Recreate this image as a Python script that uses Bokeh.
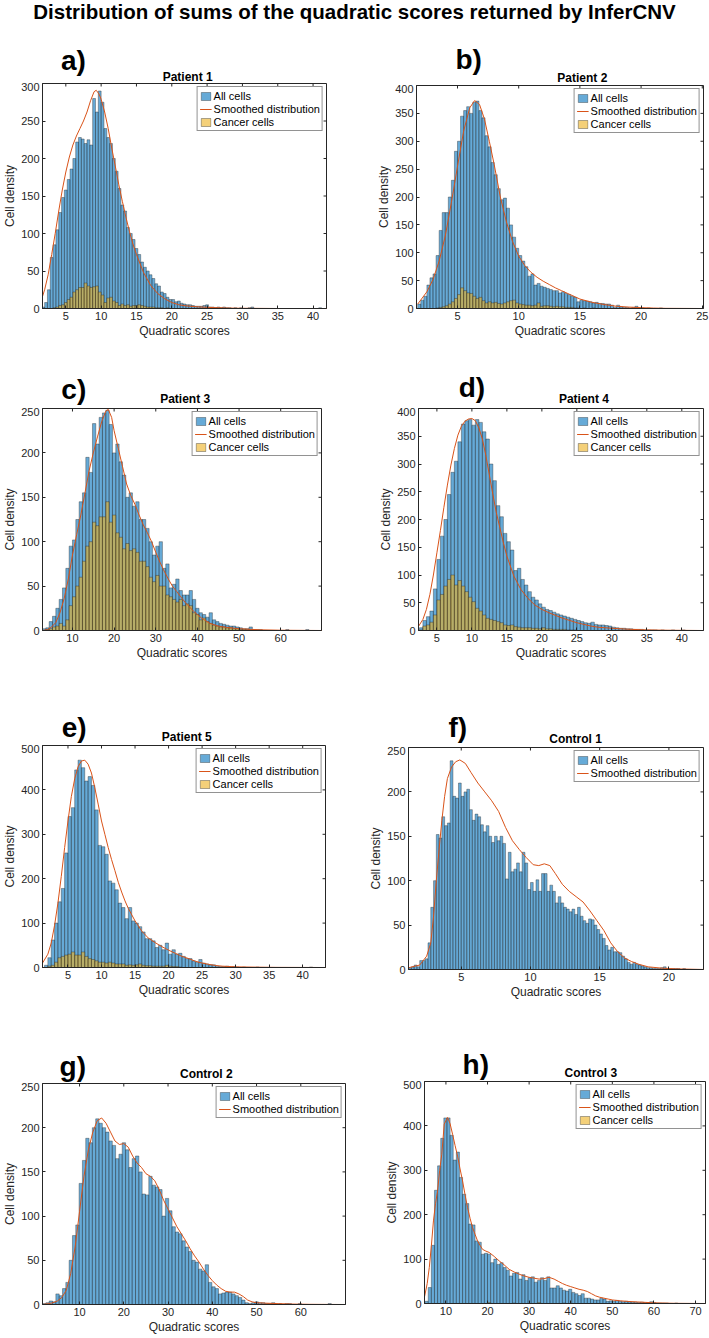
from bokeh.plotting import figure
from bokeh.layouts import column, row
from bokeh.models import Range1d, FixedTicker, Label, Legend, LegendItem
from bokeh.embed import file_html
from bokeh.resources import INLINE

# ---------------------------------------------------------------- data
FIG_TITLE = "Distribution of sums of the quadratic scores returned by InferCNV"
X_LABEL = "Quadratic scores"
Y_LABEL = "Cell density"

# Patient 1
P1_BIN_START, P1_BIN_WIDTH = 1.6, 0.4
P1_ALL = [2, 8, 25, 68, 85, 105, 128, 148, 158, 172, 186, 200, 222, 228, 226, 220, 225, 218, 280, 262,
          290, 275, 240, 228, 220, 200, 183, 160, 138, 130, 108, 100, 92, 80, 72, 62, 55, 50, 45, 40,
          33, 30, 22, 20, 15, 12, 12, 9, 10, 7, 6, 5, 5, 4, 3, 3, 3, 4, 5, 2,
          2, 1, 2, 1, 2, 1, 1, 0, 1, 0, 1, 0, 0, 1, 2, 0, 0, 0, 0, 0,
          0, 0, 0, 0, 0, 0, 0, 0, 0, 0, 0, 0, 0, 0, 0, 0, 0, 0, 1, 0, 0]
P1_CANCER = [0, 0, 0, 0, 1, 2, 4, 5, 8, 12, 15, 22, 25, 28, 28, 34, 30, 28, 29, 30,
             22, 18, 8, 14, 15, 10, 8, 4, 6, 4, 5, 3, 4, 4, 5, 4, 3, 2, 2, 2,
             1, 1, 1, 0, 1] + [0] * 56
P1_SMOOTH_X = [1.6, 2, 2.5, 3, 3.5, 4, 4.5, 5, 5.5, 6, 6.5, 7, 7.5, 8, 8.5, 9, 9.3, 9.7, 10, 10.5,
               11, 11.5, 12, 12.5, 13, 13.5, 14, 14.5, 15, 16, 17, 18, 19, 20, 21, 22, 24, 26, 28, 30, 35, 42]
P1_SMOOTH_Y = [13, 25, 45, 72, 100, 130, 158, 182, 202, 218, 230, 240, 250, 262, 277, 289, 291, 286, 279, 262,
               240, 214, 190, 165, 143, 122, 103, 86, 72, 48, 31, 20, 13, 8, 5, 3.5, 2, 1.2, 0.6, 0.3, 0, 0]
P1_X_TICKS = [5, 10, 15, 20, 25, 30, 35, 40]
P1_Y_TICKS = [0, 50, 100, 150, 200, 250, 300]

# Patient 2
P2_BIN_START, P2_BIN_WIDTH = 1.75, 0.25
P2_ALL = [8, 15, 22, 42, 55, 62, 95, 140, 172, 172, 200, 230, 282, 300, 345, 355, 362, 350, 370, 372,
          355, 342, 310, 290, 262, 240, 215, 195, 198, 180, 150, 128, 108, 95, 85, 75, 58, 62, 42, 45,
          40, 38, 36, 34, 32, 32, 28, 30, 27, 25, 22, 20, 12, 15, 14, 13, 12, 10, 11, 9,
          9, 8, 8, 6, 2, 6, 3, 2, 2, 1, 2, 4, 1, 1, 0, 1, 0, 0, 0, 1,
          0, 0, 0, 0, 0, 0, 0, 0, 0, 0, 0, 0, 0]
P2_CANCER = [0, 0, 0, 0, 0, 0, 1, 2, 3, 5, 8, 12, 18, 25, 37, 32, 28, 27, 22, 18,
             20, 14, 10, 12, 10, 11, 9, 8, 10, 12, 14, 15, 10, 8, 7, 6, 6, 5, 6, 10,
             4, 5, 5, 4, 3, 4, 3, 3, 2, 2, 2, 1, 1, 0, 1, 0, 0, 1, 0, 0] + [0] * 33
P2_SMOOTH_X = [1.75, 2.5, 3, 3.5, 4, 4.5, 5, 5.5, 6, 6.4, 6.8, 7.2, 7.6, 8, 8.5, 9, 9.5, 10, 10.5, 11,
               11.5, 12, 12.5, 13, 13.5, 14, 14.5, 15, 16, 17, 18, 19, 20, 21, 22, 25]
P2_SMOOTH_Y = [8, 30, 52, 85, 130, 190, 255, 318, 360, 373, 366, 340, 300, 258, 200, 155, 120, 94, 77, 65,
               56, 49, 43, 37, 32, 27, 22, 17, 11, 7, 4, 2.5, 1.5, 0.8, 0.3, 0]
P2_X_TICKS = [5, 10, 15, 20, 25]
P2_Y_TICKS = [0, 50, 100, 150, 200, 250, 300, 350, 400]

# Patient 3
P3_BIN_START, P3_BIN_WIDTH = 2.8, 0.8
P3_ALL = [2, 3, 10, 16, 25, 35, 48, 70, 95, 102, 125, 145, 155, 195, 178, 233, 210, 240, 245, 248,
          232, 200, 210, 190, 175, 150, 155, 140, 145, 125, 125, 115, 100, 85, 95, 100, 70, 75, 48, 52,
          58, 45, 40, 40, 45, 35, 25, 20, 18, 15, 20, 12, 10, 8, 7, 6, 5, 5, 4, 3,
          2, 2, 4, 1, 1, 1, 0, 0, 0, 0, 0, 0, 0, 1, 0, 0, 0, 0, 0, 1,
          0, 0, 0, 0]
P3_CANCER = [0, 1, 2, 4, 5, 8, 5, 12, 28, 38, 50, 60, 78, 95, 100, 122, 118, 128, 128, 145,
             122, 130, 110, 105, 92, 98, 90, 92, 88, 78, 78, 72, 60, 55, 62, 50, 50, 40, 38, 35,
             32, 35, 28, 30, 28, 20, 18, 12, 14, 10, 8, 6, 5, 4, 4, 3, 3, 2, 2, 1,
             1, 1, 1] + [0] * 21
P3_SMOOTH_X = [2.8, 4, 5, 6, 7, 8, 9, 10, 11, 12, 13, 14, 15, 16, 17, 18, 18.6, 19.4, 20, 21,
               22, 23, 24, 25, 26, 27, 28, 29, 30, 31, 32, 33, 34, 35, 36, 37, 38, 39, 40, 41,
               42, 43, 45, 47, 50, 55, 60, 70]
P3_SMOOTH_Y = [0, 1, 4, 9, 20, 36, 58, 85, 108, 130, 155, 180, 200, 218, 235, 247, 249, 240, 225, 205,
               185, 165, 152, 142, 130, 119, 110, 100, 88, 77, 67, 58, 50, 44, 38, 32, 27, 22, 18, 14,
               11, 8, 5, 3.5, 2, 0.8, 0.3, 0]
P3_X_TICKS = [10, 20, 30, 40, 50, 60]
P3_Y_TICKS = [0, 50, 100, 150, 200, 250]

# Patient 4
P4_BIN_START, P4_BIN_WIDTH = 2.5, 0.5
P4_ALL = [5, 18, 25, 35, 75, 128, 170, 200, 245, 285, 305, 340, 372, 378, 380, 370, 380, 375, 358, 345,
          300, 270, 225, 205, 175, 160, 145, 108, 112, 92, 82, 70, 60, 55, 48, 42, 38, 36, 33, 30,
          28, 26, 24, 22, 20, 18, 16, 14, 13, 15, 11, 10, 10, 9, 8, 6, 5, 4, 4, 3,
          3, 2, 2, 2, 1, 1, 1, 1, 0, 1, 0, 0, 1, 0, 0, 1, 0, 0, 0, 0, 0]
P4_CANCER = [1, 8, 10, 15, 28, 55, 65, 80, 92, 100, 82, 90, 80, 70, 60, 52, 40, 35, 28, 22,
             20, 18, 16, 14, 10, 9, 10, 7, 6, 5, 5, 5, 4, 4, 3, 5, 3, 3, 2, 2,
             2, 2, 1, 1, 1] + [0] * 36
P4_SMOOTH_X = [2.4, 3, 3.5, 4, 4.5, 5, 5.5, 6, 6.5, 7, 7.5, 8, 8.5, 9, 9.5, 10, 10.5, 11, 11.5, 12,
               12.5, 13, 13.5, 14, 14.5, 15, 16, 17, 18, 19, 20, 21, 22, 23, 24, 25, 26, 27, 28, 30,
               32, 35, 38, 43]
P4_SMOOTH_Y = [8, 20, 38, 65, 100, 140, 180, 222, 262, 298, 328, 352, 368, 377, 381, 382, 378, 365, 345, 315,
               280, 245, 212, 185, 158, 134, 98, 74, 58, 46, 38, 32, 27, 22, 18, 14, 11, 8, 6, 4,
               2.5, 1, 0.5, 0]
P4_X_TICKS = [5, 10, 15, 20, 25, 30, 35, 40]
P4_Y_TICKS = [0, 50, 100, 150, 200, 250, 300, 350, 400]

# Patient 5
P5_BIN_START, P5_BIN_WIDTH = 1.0, 0.5
P5_ALL = [0, 5, 22, 62, 100, 148, 178, 258, 340, 360, 445, 467, 450, 420, 430, 410, 355, 275, 272, 255,
          195, 190, 175, 145, 135, 110, 135, 105, 100, 92, 80, 65, 65, 60, 45, 50, 40, 55, 30, 40,
          30, 32, 25, 20, 20, 15, 12, 18, 10, 8, 6, 6, 3, 2, 2, 3, 1, 2, 1, 0,
          1, 0, 0, 0, 1, 0, 0, 0, 0, 0, 0, 0, 0, 0, 0, 0, 0, 0, 0, 0,
          1, 0, 0, 0, 0]
P5_CANCER = [0, 0, 3, 5, 12, 22, 25, 28, 30, 35, 28, 28, 35, 25, 20, 18, 15, 12, 12, 10,
             12, 10, 8, 8, 8, 5, 6, 5, 6, 8, 5, 4, 4, 3, 3, 3, 3, 5, 3, 2,
             2, 1] + [0] * 43
P5_SMOOTH_X = [1.2, 2, 2.5, 3, 3.5, 4, 4.5, 5, 5.5, 6, 6.5, 7, 7.5, 8, 8.5, 9, 9.5, 10, 10.5, 11,
               11.5, 12, 12.5, 13, 13.5, 14, 15, 16, 17, 18, 19, 20, 21, 22, 23, 24, 25, 26, 27, 28,
               30, 33, 36, 43.5]
P5_SMOOTH_Y = [10, 30, 55, 95, 145, 205, 270, 330, 385, 425, 452, 465, 467, 458, 438, 405, 368, 330, 300, 270,
               243, 218, 192, 170, 150, 133, 105, 82, 66, 56, 47, 39, 32, 25, 20, 14, 10, 7, 4.5, 3,
               1.5, 0.8, 0.3, 0]
P5_X_TICKS = [5, 10, 15, 20, 25, 30, 35, 40]
P5_Y_TICKS = [0, 100, 200, 300, 400, 500]

# Control 1
C1_BIN_START, C1_BIN_WIDTH = 1.2, 0.2
C1_ALL = [2, 3, 5, 3, 10, 10, 12, 30, 70, 100, 152, 148, 172, 162, 165, 235, 195, 193, 210, 195,
          200, 203, 180, 168, 175, 172, 163, 155, 162, 150, 143, 150, 145, 150, 142, 102, 132, 110, 113, 120,
          110, 132, 120, 90, 98, 88, 101, 88, 108, 108, 88, 95, 88, 75, 82, 75, 70, 68, 65, 68,
          62, 70, 60, 55, 52, 57, 56, 50, 45, 40, 35, 27, 22, 25, 20, 20, 19, 15, 12, 8,
          6, 8, 6, 5, 4, 3, 2, 2, 1, 1, 1, 2, 3, 1, 1, 1, 1, 1, 0, 1,
          0, 0, 0, 0, 0, 0, 0]
C1_SMOOTH_X = [1.2, 2, 2.5, 2.8, 3.0, 3.2, 3.4, 3.6, 3.8, 4.0, 4.3, 4.6, 4.9, 5.3, 5.7, 6.2, 6.7, 7.2, 7.7, 8.2,
               8.7, 9.2, 9.7, 10.2, 10.6, 11.0, 11.4, 11.8, 12.3, 12.8, 13.3, 13.8, 14.3, 14.8, 15.3, 15.8, 16.3, 16.8, 17.3, 17.8,
               18.5, 19.5, 20.5, 22.6]
C1_SMOOTH_Y = [2, 5, 15, 30, 60, 100, 135, 168, 195, 215, 228, 234, 236, 232, 222, 210, 200, 190, 178, 160,
               145, 135, 126, 118, 117, 119, 117, 108, 96, 88, 82, 76, 66, 55, 44, 30, 20, 13, 9, 6,
               3, 1.5, 0.7, 0]
C1_X_TICKS = [5, 10, 15, 20]
C1_Y_TICKS = [0, 50, 100, 150, 200, 250]

# Control 2
C2_BIN_START, C2_BIN_WIDTH = 1.65, 0.75
C2_ALL = [1, 2, 4, 3, 12, 10, 18, 25, 50, 78, 90, 137, 163, 188, 183, 200, 210, 205, 200, 195,
          185, 180, 165, 170, 183, 175, 155, 165, 168, 150, 125, 124, 145, 135, 133, 130, 100, 120, 106, 88,
          82, 80, 72, 65, 60, 50, 48, 40, 38, 45, 25, 20, 18, 12, 13, 14, 14, 12, 10, 8,
          5, 2, 1, 2, 3, 2, 2, 1, 1, 2, 0, 1, 0, 1, 1, 0, 0, 1, 0, 0,
          0, 0, 0, 0, 0, 0, 1, 0, 0, 0, 0, 0]
C2_SMOOTH_X = [1.65, 3, 4, 5, 6, 7, 8, 9, 10, 11, 12, 13, 14, 15, 16, 17, 18, 19, 20, 21,
               22, 23, 24, 25, 26, 27, 28, 29, 30, 31, 32, 33, 34, 35, 36, 37, 38, 39, 40, 41,
               42, 43, 44, 45, 46, 47, 48, 49, 50, 52, 55, 58, 62, 70]
C2_SMOOTH_Y = [0, 1, 2, 4, 8, 16, 35, 65, 105, 145, 175, 195, 208, 211, 205, 195, 185, 181, 182, 178,
               168, 160, 155, 148, 145, 140, 130, 118, 108, 98, 88, 80, 72, 63, 55, 48, 40, 33, 27, 22,
               18, 15, 14, 14, 12, 9, 5, 3, 2, 1.5, 1, 0.5, 0.2, 0]
C2_X_TICKS = [10, 20, 30, 40, 50, 60]
C2_Y_TICKS = [0, 50, 100, 150, 200, 250]

# Control 3
C3_BIN_START, C3_BIN_WIDTH = 5.0, 0.75
C3_ALL = [5, 36, 131, 255, 310, 372, 418, 418, 379, 323, 341, 284, 246, 225, 179, 177, 141, 138, 111, 113,
          111, 92, 100, 88, 92, 81, 75, 62, 68, 70, 55, 65, 52, 58, 60, 48, 52, 58, 52, 60,
          35, 35, 40, 35, 30, 28, 32, 25, 22, 18, 22, 12, 12, 10, 8, 8, 12, 10, 5, 6,
          5, 7, 5, 4, 5, 4, 3, 3, 2, 3, 2, 2, 4, 2, 1, 1, 1, 1, 0, 0,
          1, 0, 0, 0, 0, 0, 0, 0, 0, 0]
C3_CANCER = [0] * 20 + [2] + [0] * 7 + [1] + [0] * 7 + [2] + [0] * 7 + [1] + [0] * 45
C3_SMOOTH_X = [4.85, 5.5, 6, 6.5, 7, 7.5, 8, 8.5, 9, 9.6, 10.4, 11, 11.6, 12.2, 12.8, 13.4, 14, 14.6, 15.2, 15.8,
               16.4, 17, 17.6, 18.2, 18.8, 19.6, 20.4, 21.6, 22.8, 24, 25.2, 26.4, 27.6, 28.8, 30, 31.2, 32.4, 33.6, 34.8, 36,
               37, 38, 39, 40, 41, 42, 43, 44, 45, 46, 47, 48, 49, 50, 52, 54, 56, 58, 60, 62,
               65, 72.4]
C3_SMOOTH_Y = [15, 45, 81, 130, 186, 225, 254, 300, 336, 404, 419, 405, 381, 356, 332, 303, 276, 245, 216, 192,
               171, 156, 141, 131, 122, 118, 115, 106, 96, 87, 77, 71, 66, 62, 59, 57, 55, 56, 59, 55,
               50, 45, 41, 38, 35, 32, 30, 27, 22, 17, 14, 12, 10, 8, 6, 4.5, 3.5, 2.5, 1.5, 1,
               0.4, 0]
C3_X_TICKS = [10, 20, 30, 40, 50, 60, 70]
C3_Y_TICKS = [0, 100, 200, 300, 400, 500]

# ---------------------------------------------------------------- styling
AX = "#262626"
BLUE = "#0072BD"
ORANGE = "#D95319"
YELLOW = "#EDB120"
FONT = "Liberation Sans"
PANEL_TOP = 1          # border kept above each plot box
TICK_PX = 3            # inward tick length


def edges(start, width, n):
    left = [start + width * i for i in range(n)]
    return left, [v + width for v in left]


def text_strip(W, S, items):
    s = figure(width=W, height=S, x_range=Range1d(0, W), y_range=Range1d(0, S),
               x_axis_location=None, y_axis_location=None, min_border=0,
               output_backend="svg", toolbar_location=None, tools="")
    s.xgrid.visible = False
    s.ygrid.visible = False
    s.outline_line_color = None
    for (x, y, txt, size, align) in items:
        s.add_layout(Label(x=x, y=y, text=txt, text_align=align, text_baseline="middle",
                           text_font=FONT, text_font_size=size, text_font_style="bold",
                           text_color="#000000"))
    return s


def make_panel(letter, title, xlim, ymax, start, width, all_vals, cancer_vals,
               sx, sy, xticks, yticks, geom, letter_off, title_off):
    W, H, L, R, T, B = geom
    S = T - PANEL_TOP
    PH = H - S
    fw, fh = W - L - R, PH - PANEL_TOP - B
    p = figure(width=W, height=PH, min_border_left=L, min_border_right=R,
               min_border_top=PANEL_TOP, min_border_bottom=B,
               x_range=Range1d(*xlim), y_range=Range1d(0, ymax),
               output_backend="svg", toolbar_location=None, tools="")
    p.xgrid.visible = False
    p.ygrid.visible = False
    p.outline_line_color = AX
    p.outline_line_width = 1
    p.background_fill_color = "white"
    p.border_fill_color = "white"

    p.xaxis.ticker = FixedTicker(ticks=xticks)
    p.yaxis.ticker = FixedTicker(ticks=yticks)
    p.xaxis.axis_label = X_LABEL
    p.yaxis.axis_label = Y_LABEL
    for ax in (p.xaxis[0], p.yaxis[0]):
        ax.axis_line_color = AX
        ax.major_tick_line_color = AX
        ax.major_tick_in = TICK_PX
        ax.major_tick_out = 0
        ax.minor_tick_line_color = None
        ax.major_label_text_font = FONT
        ax.major_label_text_font_size = "11px"
        ax.major_label_text_color = AX
        ax.major_label_standoff = 3
        ax.axis_label_text_font = FONT
        ax.axis_label_text_font_size = "12px"
        ax.axis_label_text_font_style = "normal"
        ax.axis_label_text_color = AX
        ax.axis_label_standoff = 1

    left, right = edges(start, width, len(all_vals))
    r_all = p.quad(left=left, right=right, bottom=0, top=all_vals,
                   fill_color=BLUE, fill_alpha=0.6,
                   line_color=AX, line_width=0.5, line_alpha=0.75)
    items = [LegendItem(label="All cells", renderers=[r_all])]
    r_can = None
    if cancer_vals is not None:
        cl, cr = edges(start, width, len(cancer_vals))
        r_can = p.quad(left=cl, right=cr, bottom=0, top=cancer_vals,
                       fill_color=YELLOW, fill_alpha=0.6,
                       line_color=AX, line_width=0.5, line_alpha=0.75)
    r_line = p.line(sx, sy, line_color=ORANGE, line_width=1)
    items.append(LegendItem(label="Smoothed distribution", renderers=[r_line]))
    if r_can is not None:
        items.append(LegendItem(label="Cancer cells", renderers=[r_can]))

    # inward tick marks on the top and right sides of the box
    dy = TICK_PX * ymax / fh
    dx = TICK_PX * (xlim[1] - xlim[0]) / fw
    p.segment(x0=xticks, y0=[ymax] * len(xticks), x1=xticks, y1=[ymax - dy] * len(xticks),
              line_color=AX, line_width=1)
    p.segment(x0=[xlim[1]] * len(yticks), y0=yticks, x1=[xlim[1] - dx] * len(yticks), y1=yticks,
              line_color=AX, line_width=1)

    legend = Legend(items=items, location="top_right", margin=3, padding=2, spacing=0,
                    label_text_font=FONT, label_text_font_size="11px", label_text_color="#000000",
                    label_height=13, label_standoff=2, glyph_width=12, glyph_height=10,
                    border_line_color=AX, border_line_width=0.75,
                    background_fill_color="white", background_fill_alpha=1)
    p.add_layout(legend)

    strip = text_strip(W, S, [
        (L + fw / 2, title_off - PANEL_TOP, title, "12px", "center"),
        (L + letter_off[0], letter_off[1] - PANEL_TOP, letter, "28px", "left"),
    ])
    return column(strip, p)


fa = make_panel("a)", "Patient 1", (1.7, 41.9), 300, P1_BIN_START, P1_BIN_WIDTH, P1_ALL, P1_CANCER,
                P1_SMOOTH_X, P1_SMOOTH_Y, P1_X_TICKS, P1_Y_TICKS,
                (355, 300, 37, 29, 43, 32), (-14, 23.5), 7)
fb = make_panel("b)", "Patient 2", (1.65, 25.1), 400, P2_BIN_START, P2_BIN_WIDTH, P2_ALL, P2_CANCER,
                P2_SMOOTH_X, P2_SMOOTH_Y, P2_X_TICKS, P2_Y_TICKS,
                (354, 300, 61, 6, 45, 32), (-13, 26.5), 7.7)
fc = make_panel("c)", "Patient 3", (2.8, 69.8), 250, P3_BIN_START, P3_BIN_WIDTH, P3_ALL, P3_CANCER,
                P3_SMOOTH_X, P3_SMOOTH_Y, P3_X_TICKS, P3_Y_TICKS,
                (355, 325, 42, 34, 68, 35), (-18, 19), 10)
fd = make_panel("d)", "Patient 4", (2.37, 43.1), 400, P4_BIN_START, P4_BIN_WIDTH, P4_ALL, P4_CANCER,
                P4_SMOOTH_X, P4_SMOOTH_Y, P4_X_TICKS, P4_Y_TICKS,
                (354, 325, 63, 6, 68, 35), (-13, 21), 10)
fe = make_panel("e)", "Patient 5", (1.2, 43.4), 500, P5_BIN_START, P5_BIN_WIDTH, P5_ALL, P5_CANCER,
                P5_SMOOTH_X, P5_SMOOTH_Y, P5_X_TICKS, P5_Y_TICKS,
                (355, 338, 37, 30, 80, 36), (-13, 18.5), 9)
ff = make_panel("f)", "Control 1", (1.19, 22.5), 250, C1_BIN_START, C1_BIN_WIDTH, C1_ALL, None,
                C1_SMOOTH_X, C1_SMOOTH_Y, C1_X_TICKS, C1_Y_TICKS,
                (354, 338, 53, 6, 82, 34), (-5, 20), 9)
fg = make_panel("g)", "Control 2", (1.63, 70.1), 250, C2_BIN_START, C2_BIN_WIDTH, C2_ALL, None,
                C2_SMOOTH_X, C2_SMOOTH_Y, C2_X_TICKS, C2_Y_TICKS,
                (355, 335, 39, 10, 80, 34), (-19, 17.5), 9.4)
fh = make_panel("h)", "Control 3", (4.85, 72.4), 500, C3_BIN_START, C3_BIN_WIDTH, C3_ALL, C3_CANCER,
                C3_SMOOTH_X, C3_SMOOTH_Y, C3_X_TICKS, C3_Y_TICKS,
                (354, 335, 69, 4, 78, 35), (-21, 17), 9)

# heading strip across the top
head = figure(width=709, height=40, x_range=Range1d(0, 709), y_range=Range1d(0, 40),
              x_axis_location=None, y_axis_location=None, min_border=0,
              output_backend="svg", toolbar_location=None, tools="")
head.xgrid.visible = False
head.ygrid.visible = False
head.outline_line_color = None
head.add_layout(Label(x=354, y=29, text=FIG_TITLE, text_align="center", text_baseline="middle",
                      text_font=FONT, text_font_size="20.5px", text_font_style="bold",
                      text_color="#000000"))

layout = column(head, row(fa, fb), row(fc, fd), row(fe, ff), row(fg, fh))

with open("out.html", "w") as f:
    f.write(file_html(layout, INLINE))
